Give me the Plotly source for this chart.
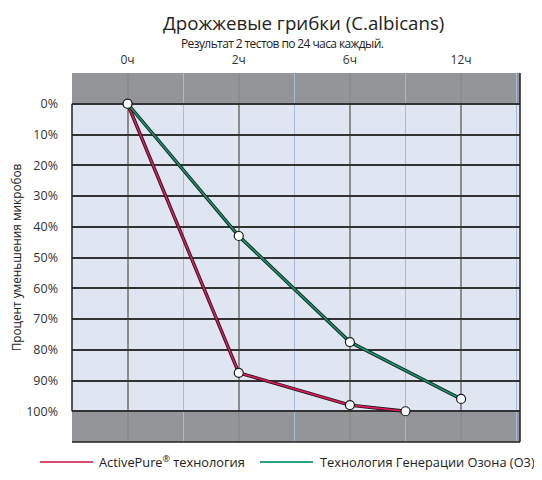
import plotly.graph_objects as go

# ---- data ----
time_labels = ["0ч", "2ч", "6ч", "12ч"]
time_positions = [0, 2, 4, 6]
y_ticks = [0, 10, 20, 30, 40, 50, 60, 70, 80, 90, 100]

activepure_x = [0, 2, 4, 5]
activepure_y = [0, 87.5, 98, 100]

ozone_x = [0, 2, 4, 6]
ozone_y = [0, 43, 77.5, 96]

series_names = ["ActivePure<sup>®</sup> технология", "Технология Генерации Озона (O3)"]
series_colors = ["#e3185a", "#0e9a6c"]
legend_colors = ["#dc4a6c", "#2fa37a"]

title_text = "Дрожжевые грибки (C.albicans)"
subtitle_text = "Результат 2 тестов по 24 часа каждый."

FONT = "Open Sans"

fig = go.Figure()

for xs, ys, col, name in [(activepure_x, activepure_y, series_colors[0], series_names[0]),
                          (ozone_x, ozone_y, series_colors[1], series_names[1])]:
    fig.add_trace(go.Scatter(x=xs, y=ys, mode="lines",
                             line=dict(color="#1a1a1a", width=3.4),
                             showlegend=False, hoverinfo="skip"))
    fig.add_trace(go.Scatter(x=xs, y=ys, mode="lines", name=name,
                             line=dict(color=col, width=1.7),
                             showlegend=False))

for xs, ys in [(activepure_x, activepure_y), (ozone_x, ozone_y)]:
    fig.add_trace(go.Scatter(x=xs, y=ys, mode="markers",
                             marker=dict(size=9, color="white",
                                         line=dict(color="#1a1a1a", width=1.2)),
                             showlegend=False, hoverinfo="skip"))

# gray bands
band_color = "#939598"
fig.add_shape(type="rect", xref="paper", yref="y", x0=0, x1=1, y0=-10, y1=0,
              fillcolor=band_color, line_width=0, layer="between")
fig.add_shape(type="rect", xref="paper", yref="y", x0=0, x1=1, y0=100, y1=110,
              fillcolor=band_color, line_width=0, layer="between")
# border lines
fig.add_shape(type="line", xref="paper", yref="paper", x0=1, x1=1, y0=0, y1=1,
              line=dict(color="#222", width=1.5), layer="above")
fig.add_shape(type="line", xref="paper", yref="paper", x0=0, x1=1, y0=0, y1=0,
              line=dict(color="#222", width=1.5), layer="above")
fig.add_shape(type="line", xref="paper", yref="y", x0=0, x1=0, y0=0, y1=100,
              line=dict(color="#222", width=1.5), layer="above")

# title / subtitle
fig.add_annotation(xref="paper", yref="paper", x=0.516, y=1.138, text=title_text,
                   showarrow=False, xanchor="center", yanchor="middle",
                   font=dict(family=FONT, size=18.7, color="#222"))
fig.add_annotation(xref="paper", yref="paper", x=0.470, y=1.081,
                   text=f"<span style='letter-spacing:-0.6px'>{subtitle_text}</span>",
                   showarrow=False, xanchor="center", yanchor="middle",
                   font=dict(family=FONT, size=12, color="#222"))

# custom legend
leg_y = -0.054
leg_items = [(-0.0714, 0.0469, 0.0558), (0.4196, 0.5379, 0.549)]
for (lx0, lx1, tx), col, name in zip(leg_items, legend_colors, series_names):
    fig.add_shape(type="line", xref="paper", yref="paper", x0=lx0, x1=lx1,
                  y0=leg_y, y1=leg_y, line=dict(color=col, width=2))
    fig.add_annotation(xref="paper", yref="paper", x=tx, y=leg_y, text=name,
                       showarrow=False, xanchor="left", yanchor="middle",
                       font=dict(family=FONT, size=12.8, color="#222"))

# the page body has an 8px default margin, so the figure is shifted by 8px
fig.update_layout(
    width=534, height=472,
    margin=dict(l=64, r=22, t=65, b=38, autoexpand=False),
    paper_bgcolor="white",
    plot_bgcolor="#dfe6f2",
    font=dict(family=FONT, color="#222"),
    xaxis=dict(
        range=[-1, 7.06], side="top", automargin=False,
        tickvals=time_positions, ticktext=time_labels,
        tickfont=dict(size=12, color="#333"),
        ticklabelstandoff=6,
        showgrid=True, gridcolor="#8c8c8c", gridwidth=1.5,
        minor=dict(dtick=1, tick0=0, showgrid=True, gridcolor="#a9bad8", gridwidth=1),
        zeroline=False, showline=False, ticks="",
        fixedrange=True,
    ),
    yaxis=dict(
        range=[110, -10], automargin=False,
        tickvals=y_ticks, ticktext=[f"{v}%" for v in y_ticks],
        tickfont=dict(size=12.5, color="#333"),
        showgrid=True, gridcolor="#333", gridwidth=1.5,
        zeroline=False, showline=False, ticks="",
        ticklabelstandoff=13,
        title=dict(text="Процент уменьшения микробов", font=dict(size=11.8, color="#222"), standoff=3),
        fixedrange=True,
    ),
)

fig.write_html("out.html")
